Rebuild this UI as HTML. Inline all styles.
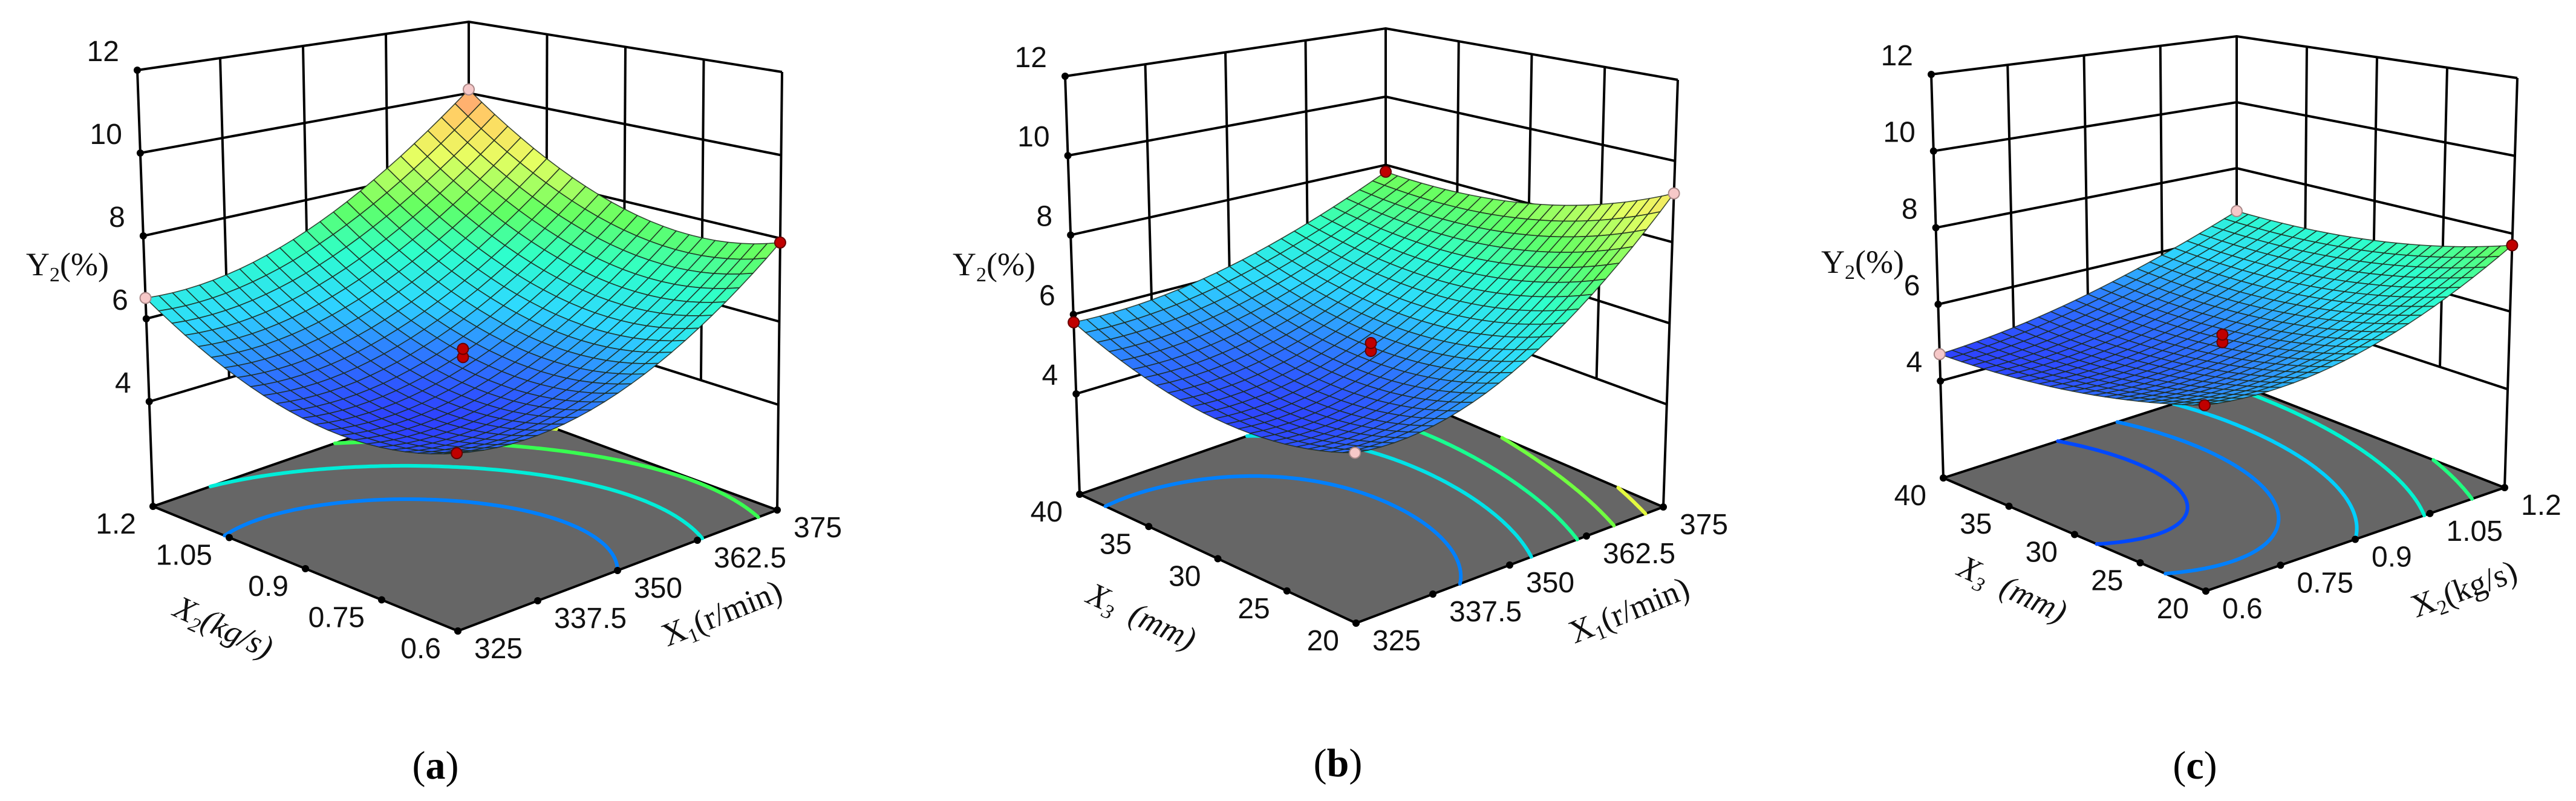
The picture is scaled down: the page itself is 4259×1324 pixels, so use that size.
<!DOCTYPE html>
<html><head><meta charset="utf-8"><style>
html,body{margin:0;padding:0;background:#fff;}
svg{display:block;}
.num{font-family:"Liberation Sans",sans-serif;font-size:48px;fill:#111;}
.ttl{font-family:"Liberation Serif",serif;font-size:54px;fill:#111;}
.lab{font-family:"Liberation Serif",serif;font-size:66px;fill:#000;}
</style></head><body>
<svg id="fig" width="4259" height="1324" viewBox="0 0 4259 1324" xmlns="http://www.w3.org/2000/svg"></svg>
<script>
// ---- data (grids at coded -1,0,+1 of right-axis factor (rows) and left-axis factor (cols)) ----
const zTicks = [4, 6, 8, 10, 12];
const zMin = 1.47, zMax = 12;
const panelA_values = [[5.3, 4.9, 6.5], [5.5, 5.3, 7.2], [7.9, 7.8, 10.1]];
const panelB_values = [[5.3, 4.8, 5.8], [6.0, 5.4, 6.2], [9.2, 8.0, 7.8]];
const panelC_values = [[5.8, 5.0, 4.7], [6.0, 5.3, 5.3], [7.7, 6.9, 6.7]];
const panelA_rightTicks = ["325", "337.5", "350", "362.5", "375"];
const panelA_leftTicks = ["0.6", "0.75", "0.9", "1.05", "1.2"];
const panelB_rightTicks = ["325", "337.5", "350", "362.5", "375"];
const panelB_leftTicks = ["20", "25", "30", "35", "40"];
const panelC_rightTicks = ["0.6", "0.75", "0.9", "1.05", "1.2"];
const panelC_leftTicks = ["20", "25", "30", "35", "40"];
const panelA_levels = [5.5, 6.5, 7.5, 8.5];
const panelB_levels = [5.5, 6.3, 7.1, 7.9, 8.7];
const panelC_levels = [5.1, 5.5, 6.0, 6.6, 7.2];
// design points: [right coded, left coded, value, kind(1=above red,0=below pink)]
const panelA_points = [[-1, 1, 6.5, 0], [1, 1, 10.1, 0], [1, -1, 7.9, 1], [-1, -1, 5.3, 1], [0, 0, 5.2, 1], [0, 0, 5.4, 1]];
const panelB_points = [[-1, 1, 5.8, 1], [1, 1, 7.8, 1], [1, -1, 9.2, 0], [-1, -1, 5.3, 0], [0, 0, 5.3, 1], [0, 0, 5.5, 1]];
const panelC_points = [[-1, 1, 4.7, 0], [1, 1, 6.7, 0], [1, -1, 7.7, 1], [-1, -1, 5.8, 1], [0, 0, 5.2, 1], [0, 0, 5.4, 1]];

// ---- geometry (screen corners of the box at floor and at z=12) ----
const geoms = [
 {F0:[757,1043],F1:[752,235],R0:[1285,843],R1:[1293,119],L0:[253,837],L1:[227,116],B0:[775,656],B1:[775,36],
  yl:[43,437],lab:[720,1287],lt:"a",lT:[362,1053,25],rT:[1200,1030,-22],leftName:"X",leftSub:"2",leftUnit:"(kg/s)",rightName:"X",rightSub:"1",rightUnit:"(r/min)"},
 {F0:[2242,1030],F1:[2237,256],R0:[2750,838],R1:[2774,132],L0:[1785,817],L1:[1761,126],B0:[2291,641],B1:[2291,47],
  yl:[1575,437],lab:[2212,1283],lt:"b",lT:[1880,1035,25],rT:[2700,1025,-22],leftName:"X",leftSub:"3",leftUnit:"  (mm)",rightName:"X",rightSub:"1",rightUnit:"(r/min)"},
 {F0:[3647,977],F1:[3642,230],R0:[4141,806],R1:[4162,129],L0:[3213,790],L1:[3193,123],B0:[3698,634],B1:[3698,60],
  yl:[3011,433],lab:[3629,1287],lt:"c",lT:[3320,990,25],rT:[4080,990,-20],leftName:"X",leftSub:"3",leftUnit:"  (mm)",rightName:"X",rightSub:"2",rightUnit:"(kg/s)"}
];
const panels = [
 {vals:panelA_values,rt:panelA_rightTicks,lt:panelA_leftTicks,lev:panelA_levels,pts:panelA_points},
 {vals:panelB_values,rt:panelB_rightTicks,lt:panelB_leftTicks,lev:panelB_levels,pts:panelB_points},
 {vals:panelC_values,rt:panelC_rightTicks,lt:panelC_leftTicks,lev:panelC_levels,pts:panelC_points}
];

const NS = "http://www.w3.org/2000/svg";
const svg = document.getElementById('fig');
function mk(tag, attrs, parent){const e=document.createElementNS(NS,tag);for(const k in attrs)e.setAttribute(k,attrs[k]);(parent||svg).appendChild(e);return e;}

const stops = [[4.5,[0,0,255]],[5.3,[0,96,255]],[6.0,[0,208,255]],[6.8,[0,255,192]],[7.6,[64,255,64]],[8.6,[224,255,64]],[9.4,[255,208,64]],[10.2,[255,112,96]]];
function ramp(v, pastel){
  let c;
  if(v<=stops[0][0]) c=stops[0][1];
  else if(v>=stops[stops.length-1][0]) c=stops[stops.length-1][1];
  else for(let i=0;i<stops.length-1;i++){ if(v>=stops[i][0]&&v<=stops[i+1][0]){const t=(v-stops[i][0])/(stops[i+1][0]-stops[i][0]);c=stops[i][1].map((x,j)=>x+(stops[i+1][1][j]-x)*t);break;} }
  const p=pastel||0;
  return 'rgb('+c.map(x=>Math.round(x+(255-x)*p)).join(',')+')';
}
function lag(x){return [x*(x-1)/2, 1-x*x, x*(x+1)/2];}
function val(grid, r, l){ // coded -1..1
  const A=lag(r), B=lag(l); let s=0;
  for(let i=0;i<3;i++)for(let j=0;j<3;j++) s+=A[i]*B[j]*grid[i][j];
  return s;
}
function bil(P,Q,R,S,a,b){ // F,R,L,B
  return [P[0]*(1-a)*(1-b)+Q[0]*a*(1-b)+R[0]*(1-a)*b+S[0]*a*b, P[1]*(1-a)*(1-b)+Q[1]*a*(1-b)+R[1]*(1-a)*b+S[1]*a*b];
}
function proj(g, a, b, z){ // a: right-axis 0..1 ; b: left-axis 0..1
  const f=bil(g.F0,g.R0,g.L0,g.B0,a,b), t=bil(g.F1,g.R1,g.L1,g.B1,a,b);
  const k=(z-zMin)/(zMax-zMin);
  return [f[0]+(t[0]-f[0])*k, f[1]+(t[1]-f[1])*k];
}
const pt = p => p[0].toFixed(1)+','+p[1].toFixed(1);

panels.forEach((P, pi) => {
  const g = geoms[pi];
  const G = mk('g', {});
  
  
  // back walls grid
  const walls = mk('g', {stroke:'#000','stroke-width':4,fill:'none'}, G);
  
  
  for(let i=0;i<5;i++){
    const u=i/4;
    // left-back wall (b=1, a varies)
    const z0 = (i===0||i===4)? zMin : zTicks[0];
    mk('line', {x1:proj(g,u,1,z0)[0],y1:proj(g,u,1,z0)[1],x2:proj(g,u,1,zMax)[0],y2:proj(g,u,1,zMax)[1]}, walls);
    // right-back wall (a=1, b varies)
    mk('line', {x1:proj(g,1,u,z0)[0],y1:proj(g,1,u,z0)[1],x2:proj(g,1,u,zMax)[0],y2:proj(g,1,u,zMax)[1]}, walls);
  }
  zTicks.forEach(z=>{
    mk('polyline', {points:[proj(g,0,1,z),proj(g,1,1,z),proj(g,1,0,z)].map(pt).join(' ')}, walls);
  });
  // floor
  const floor = mk('polygon', {points:[g.F0,g.R0,g.B0,g.L0].map(pt).join(' '), fill:'#666666', stroke:'#000','stroke-width':4,'stroke-linejoin':'round'}, G);
  
  
  // contours via marching squares
  const N=80, grid=[];
  for(let i=0;i<=N;i++){grid.push([]);for(let j=0;j<=N;j++) grid[i].push(val(P.vals, -1+2*i/N, -1+2*j/N));}
  P.lev.forEach(lv=>{
    let d='';
    for(let i=0;i<N;i++)for(let j=0;j<N;j++){
      const c=[[i,j],[i+1,j],[i+1,j+1],[i,j+1]];
      const vs=c.map(q=>grid[q[0]][q[1]]);
      const cr=[];
      for(let e=0;e<4;e++){const v1=vs[e],v2=vs[(e+1)%4];
        if((v1-lv)*(v2-lv)<0){const t=(lv-v1)/(v2-v1);const A=c[e],B=c[(e+1)%4];cr.push([(A[0]+(B[0]-A[0])*t)/N,(A[1]+(B[1]-A[1])*t)/N]);}}
      for(let k=0;k+1<cr.length;k+=2){const p1=proj(g,cr[k][0],cr[k][1],zMin),p2=proj(g,cr[k+1][0],cr[k+1][1],zMin);d+='M'+pt(p1)+'L'+pt(p2);}
    }
    const cl = mk('path', {d:d, stroke:ramp(lv,0), 'stroke-width':6, fill:'none','stroke-linecap':'round'}, G);
    
    
  });
  // floor edge ticks & labels
  for(let i=0;i<5;i++){
    const u=i/4;
    const pr=proj(g,u,0,zMin), pl=proj(g,0,u,zMin);
    mk('circle',{cx:pr[0],cy:pr[1],r:6,fill:'#000'},G);
    mk('circle',{cx:pl[0],cy:pl[1],r:6,fill:'#000'},G);
    const tr = mk('text',{x:pr[0]+27,y:pr[1]+45,class:'num'},G); tr.textContent=P.rt[i];
    
    
    const tl = mk('text',{x:pl[0]-28,y:pl[1]+45,class:'num','text-anchor':'end'},G); tl.textContent=P.lt[i];
    
    
  }
  // z axis ticks
  zTicks.forEach(z=>{
    const p=proj(g,0,1,z);
    mk('circle',{cx:p[0],cy:p[1],r:6,fill:'#000'},G);
    const t=mk('text',{x:p[0]-30,y:p[1]-15,class:'num','text-anchor':'end'},G); t.textContent=String(z);
    
    
  });
  // surface
  const S=24, quads=[];
  for(let i=0;i<S;i++)for(let j=0;j<S;j++){
    const cs=[[i,j],[i+1,j],[i+1,j+1],[i,j+1]].map(q=>{const a=q[0]/S,b=q[1]/S;return {a,b,v:val(P.vals,-1+2*a,-1+2*b)};});
    const vm=cs.reduce((s,c)=>s+c.v,0)/4;
    quads.push({cs,vm,depth:(i+j+1)/S});
  }
  quads.sort((x,y)=>y.depth-x.depth);
  const surf = mk('g',{stroke:'#1c2a1c','stroke-width':1.6,'stroke-opacity':0.85,'stroke-linejoin':'round'},G);
  
  
  quads.forEach(q=>{
    mk('polygon',{points:q.cs.map(c=>pt(proj(g,c.a,c.b,c.v))).join(' '),fill:ramp(q.vm,0.18)},surf);
  });
  // design points
  P.pts.forEach(d=>{
    const p=proj(g,(d[0]+1)/2,(d[1]+1)/2,d[2]);
    const c=mk('circle',{cx:p[0],cy:p[1],r:9,fill:d[3]?'#c00000':'#f6c8c8',stroke:d[3]?'#600':'#a88','stroke-width':2},G);
    
    
  });
  // axis titles
  const yl = mk('text',{x:g.yl[0],y:g.yl[1]+18,class:'ttl'},G);
  yl.innerHTML='Y<tspan font-size="34" dy="10">2</tspan><tspan dy="-10">(%)</tspan>';
  
  
  const lt = mk('text',{x:g.lT[0],y:g.lT[1],class:'ttl','text-anchor':'middle','font-style':'italic',transform:'rotate('+g.lT[2]+' '+g.lT[0]+' '+g.lT[1]+')'},G);
  lt.innerHTML=g.leftName+'<tspan font-size="34" dy="10">'+g.leftSub+'</tspan><tspan dy="-10" xml:space="preserve">'+g.leftUnit+'</tspan>';
  
  
  const rtt = mk('text',{x:g.rT[0],y:g.rT[1],class:'ttl','text-anchor':'middle',transform:'rotate('+g.rT[2]+' '+g.rT[0]+' '+g.rT[1]+')'},G);
  rtt.innerHTML=g.rightName+'<tspan font-size="34" dy="10">'+g.rightSub+'</tspan><tspan dy="-10">'+g.rightUnit+'</tspan>';
  
  
  const pl = mk('text',{x:g.lab[0],y:g.lab[1],class:'lab','text-anchor':'middle'},G);
  pl.innerHTML='(<tspan font-weight="bold">'+g.lt+'</tspan>)';
  
  
});
</script>
</body></html>
